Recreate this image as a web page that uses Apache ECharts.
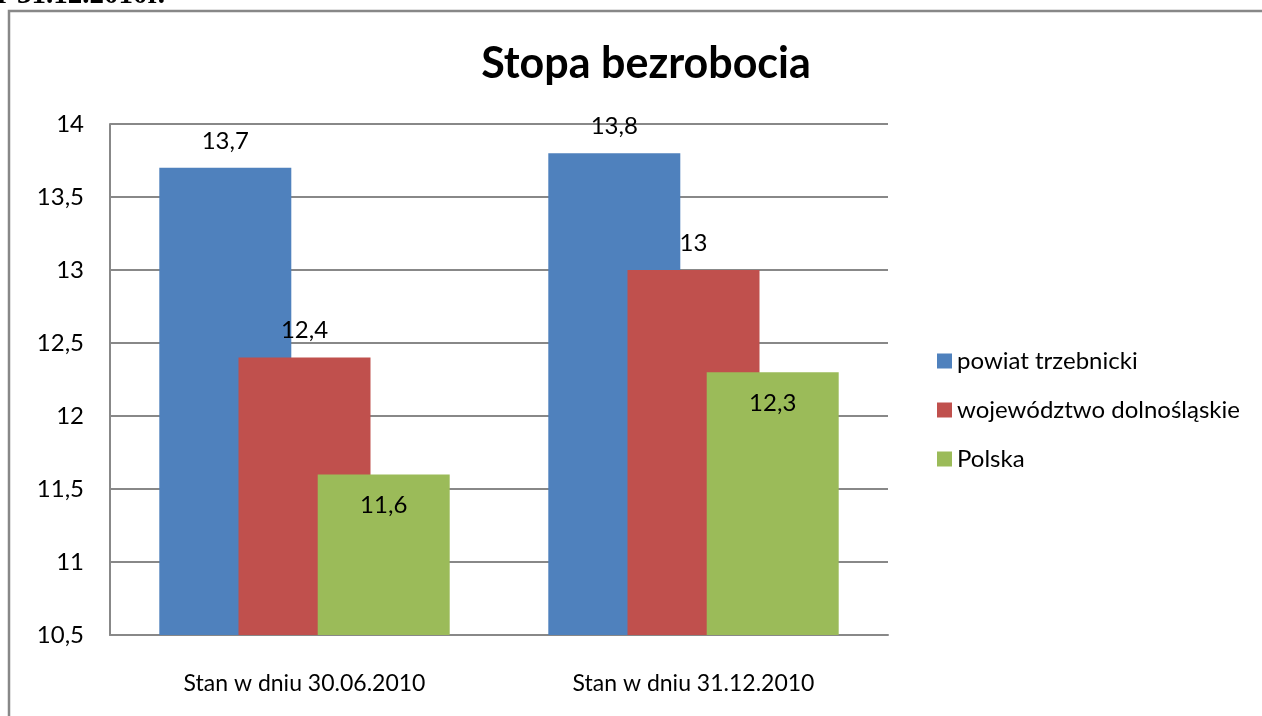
<!DOCTYPE html>
<html>
<head>
<meta charset="utf-8">
<title>Stopa bezrobocia</title>
<script src="https://cdn.jsdelivr.net/npm/echarts@6/dist/echarts.min.js"></script>
<style>
  html, body { margin: 0; padding: 0; background: #fff; }
  #chart_bezrobocie { width: 1262px; height: 716px; }
</style>
</head>
<body>
<div id="chart_bezrobocie"></div>
<script>
// dane z wykresu
var categories = ['Stan w dniu 30.06.2010', 'Stan w dniu 31.12.2010'];
var seriesNames = ['powiat trzebnicki', 'województwo dolnośląskie', 'Polska'];
var powiat = [13.7, 13.8];
var wojewodztwo = [12.4, 13];
var polska = [11.6, 12.3];
var yTicks = { min: 10.5, max: 14, step: 0.5 };

var colors = ['#4F81BD', '#C0504D', '#9BBB59'];
var font = 'Lato, "Noto Sans", sans-serif';

function fmt(v) {
  return String(v).replace('.', ',');
}

var myChart = echarts.init(document.getElementById('chart_bezrobocie'));

var dataSets = [powiat, wojewodztwo, polska];
var series = [];
for (var i = 0; i < seriesNames.length; i++) {
  var inside = (i === 2);
  series.push({
    name: seriesNames[i],
    type: 'bar',
    barWidth: 132,
    barGap: '-40%',
    data: dataSets[i],
    itemStyle: { color: colors[i] },
    label: {
      show: true,
      position: inside ? 'insideTop' : 'top',
      distance: inside ? 19 : 15,
      color: '#000',
      fontFamily: font,
      fontSize: 24,
      formatter: function (p) { return fmt(p.value); }
    }
  });
}

var option = {
  animation: false,
  backgroundColor: '#fff',
  title: {
    text: 'Stopa bezrobocia',
    left: 641,
    top: 38,
    textAlign: 'center',
    textStyle: {
      fontFamily: font,
      fontSize: 43,
      fontWeight: 'bold',
      color: '#000'
    }
  },
  graphic: [
    {
      type: 'rect',
      shape: { x: 9, y: 11, width: 1262, height: 760 },
      style: { fill: 'none', stroke: '#888', lineWidth: 2.5 },
      silent: true
    },
    {
      type: 'text',
      left: -3,
      top: -19,
      style: {
        text: 'r 31.12.2010r.',
        font: 'bold 29px "Liberation Serif", serif',
        fill: '#000'
      },
      silent: true
    }
  ],
  legend: {
    orient: 'vertical',
    left: 932,
    top: 344,
    itemWidth: 15,
    itemHeight: 15,
    itemGap: 25,
    icon: 'rect',
    textStyle: {
      fontFamily: font,
      fontSize: 24,
      color: '#000',
      padding: [0, 0, 0, 0]
    },
    data: seriesNames
  },
  grid: {
    left: 110,
    right: 374,
    top: 124,
    bottom: 81,
    containLabel: false
  },
  xAxis: {
    type: 'category',
    data: categories,
    axisLine: { lineStyle: { color: '#888', width: 2 } },
    axisTick: { show: false },
    axisLabel: {
      color: '#000',
      fontFamily: font,
      fontSize: 23,
      margin: 37,
      interval: 0
    }
  },
  yAxis: {
    type: 'value',
    min: yTicks.min,
    max: yTicks.max,
    interval: yTicks.step,
    axisLine: { show: true, lineStyle: { color: '#888', width: 2 } },
    axisTick: { show: false },
    axisLabel: {
      color: '#000',
      fontFamily: font,
      fontSize: 24,
      margin: 26,
      formatter: function (v) { return fmt(v); }
    },
    splitLine: { lineStyle: { color: '#888', width: 2 } }
  },
  series: series
};

myChart.setOption(option, true);
</script>
</body>
</html>
